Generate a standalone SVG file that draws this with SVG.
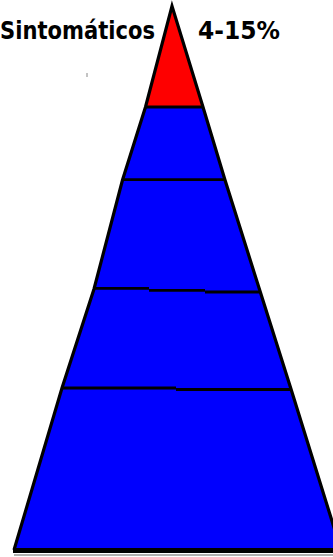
<svg xmlns="http://www.w3.org/2000/svg" width="333" height="557" viewBox="0 0 333 557">
<style>
.lbl{font-family:"DejaVu Sans","Liberation Sans",sans-serif;font-weight:bold;font-size:24px;fill:#000}
.edge{stroke:#000;stroke-width:3.2;fill:none;stroke-linejoin:miter}
.div{stroke:#000;stroke-width:2.8;fill:none}
</style>
<rect width="333" height="557" fill="#fff"/>
<g id="base">
<line x1="14" y1="555" x2="333" y2="555" stroke="#b0b0b0" stroke-width="2"/>
<polygon points="172,6 145.5,107 122.5,180 94,289 62,388 14,550 341,550 291,389 260,291 225,180 203,107" fill="#0000fe"/>
</g>
<g id="top">
<polygon points="172,6 145.5,107 203,107" fill="#fe0000"/>
</g>
<g id="connectors">
<line class="div" x1="145" y1="107" x2="204" y2="107"/>
<line class="div" x1="122" y1="179.7" x2="226" y2="179.7"/>
<line class="div" x1="93" y1="288.3" x2="149" y2="288.3"/>
<line class="div" x1="149" y1="290.3" x2="205" y2="290.3"/>
<line class="div" x1="205" y1="292" x2="261" y2="292"/>
<line class="div" x1="62" y1="388" x2="176" y2="388"/>
<line class="div" x1="176" y1="389.5" x2="292" y2="389.5"/>
<polyline class="edge" points="14,550 62,388 94,289 122.5,180 145.5,107 172,6 203,107 225,180 260,291 291,389 341,550"/>
<line x1="13" y1="550.5" x2="340" y2="550.5" stroke="#000" stroke-width="5"/>
</g>
<line x1="87" y1="73" x2="87" y2="77" stroke="#888" stroke-width="1"/>
<g id="labels">
<text class="lbl" x="0" y="39" textLength="155" lengthAdjust="spacingAndGlyphs">Sintomáticos</text>
<text class="lbl" x="198" y="39" textLength="82" lengthAdjust="spacingAndGlyphs">4-15%</text>
</g>
</svg>
